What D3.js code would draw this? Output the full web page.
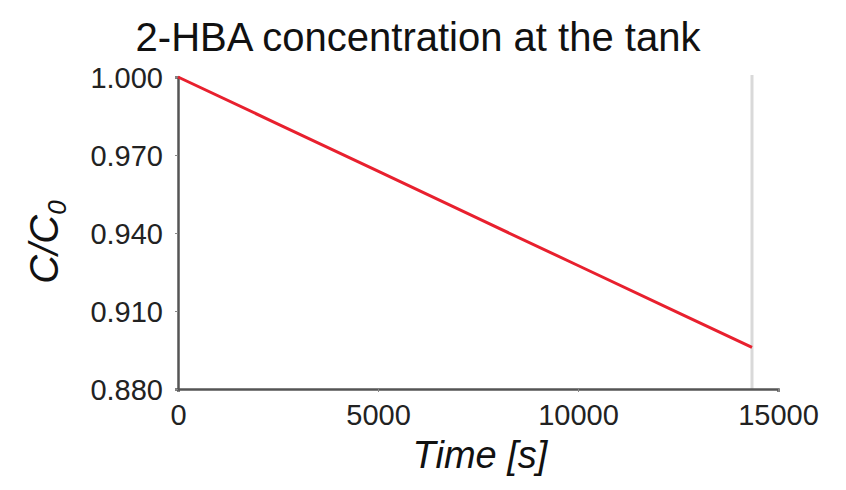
<!DOCTYPE html>
<html>
<head>
<meta charset="utf-8">
<script src="https://cdn.jsdelivr.net/npm/d3@7.9.0/dist/d3.min.js"></script>
<style>
  body { margin: 0; background: #fff; }
  svg { font-family: "Liberation Sans", Arial, sans-serif; }
</style>
</head>
<body>
<svg id="chart" width="846" height="490"></svg>
<script>
// data
const times = [0, 2500, 5000, 7500, 10000, 12500, 14350];
const conc = [1.0, 0.9819, 0.9638, 0.9456, 0.9275, 0.9094, 0.896];
const xTicks = [0, 5000, 10000, 15000];
const yTicks = [0.88, 0.91, 0.94, 0.97, 1.0];
const endTime = 14350;

const svg = d3.select('#chart');

let x = d3.scaleLinear().domain([0, 15000]).range([178, 778]);
let y = d3.scaleLinear().domain([0.88, 1.0]).range([389, 77]);

// title
svg.append('text')
  .attr('x', 418)
  .attr('y', 51)
  .attr('text-anchor', 'middle')
  .attr('font-size', 40)
  .attr('fill', '#111')
  .text('2-HBA concentration at the tank');

// grey marker at end of simulation
svg.append('line')
  .attr('x1', x(endTime)).attr('x2', x(endTime))
  .attr('y1', y(1.0) - 2).attr('y2', y(0.88))
  .attr('stroke', '#d9d9d9')
  .attr('stroke-width', 3);

// axes
let xAxis = svg.append('g')
  .attr('transform', `translate(0,${y(0.88)})`)
  .call(d3.axisBottom(x).tickValues(xTicks).tickFormat(d3.format('d')).tickSize(3).tickPadding(12));

let yAxis = svg.append('g')
  .attr('transform', `translate(${x(0)},0)`)
  .call(d3.axisLeft(y).tickValues(yTicks).tickFormat(d3.format('.3f')).tickSize(3).tickPadding(12));

[xAxis, yAxis].forEach((g) => {
  g.select('.domain').attr('stroke', '#555').attr('stroke-width', 2.5);
  g.selectAll('.tick line').attr('stroke', '#888').attr('stroke-width', 1);
  g.selectAll('.tick text')
    .attr('font-size', 29)
    .attr('fill', '#222')
    .attr('font-family', '"Liberation Sans", Arial, sans-serif');
});
yAxis.selectAll('.tick text').attr('dy', '0.36em');
xAxis.selectAll('.tick text').attr('dy', '0.71em');

// concentration line
let data = times.map((t, i) => ({ t: t, c: conc[i] }));
let line = d3.line().x((d) => x(d.t)).y((d) => y(d.c));

svg.append('path')
  .datum(data)
  .attr('d', line)
  .attr('fill', 'none')
  .attr('stroke', '#e8202e')
  .attr('stroke-width', 3);

// axis labels
svg.append('text')
  .attr('x', 480)
  .attr('y', 468)
  .attr('text-anchor', 'middle')
  .attr('font-size', 38)
  .attr('font-style', 'italic')
  .attr('fill', '#111')
  .text('Time [s]');

let yl = svg.append('text')
  .attr('transform', 'translate(58,242) rotate(-90)')
  .attr('text-anchor', 'middle')
  .attr('font-size', 40)
  .attr('font-style', 'italic')
  .attr('fill', '#111');
yl.append('tspan').text('C/C');
yl.append('tspan').attr('font-size', 26).attr('dy', 8).text('0');
</script>
</body>
</html>
